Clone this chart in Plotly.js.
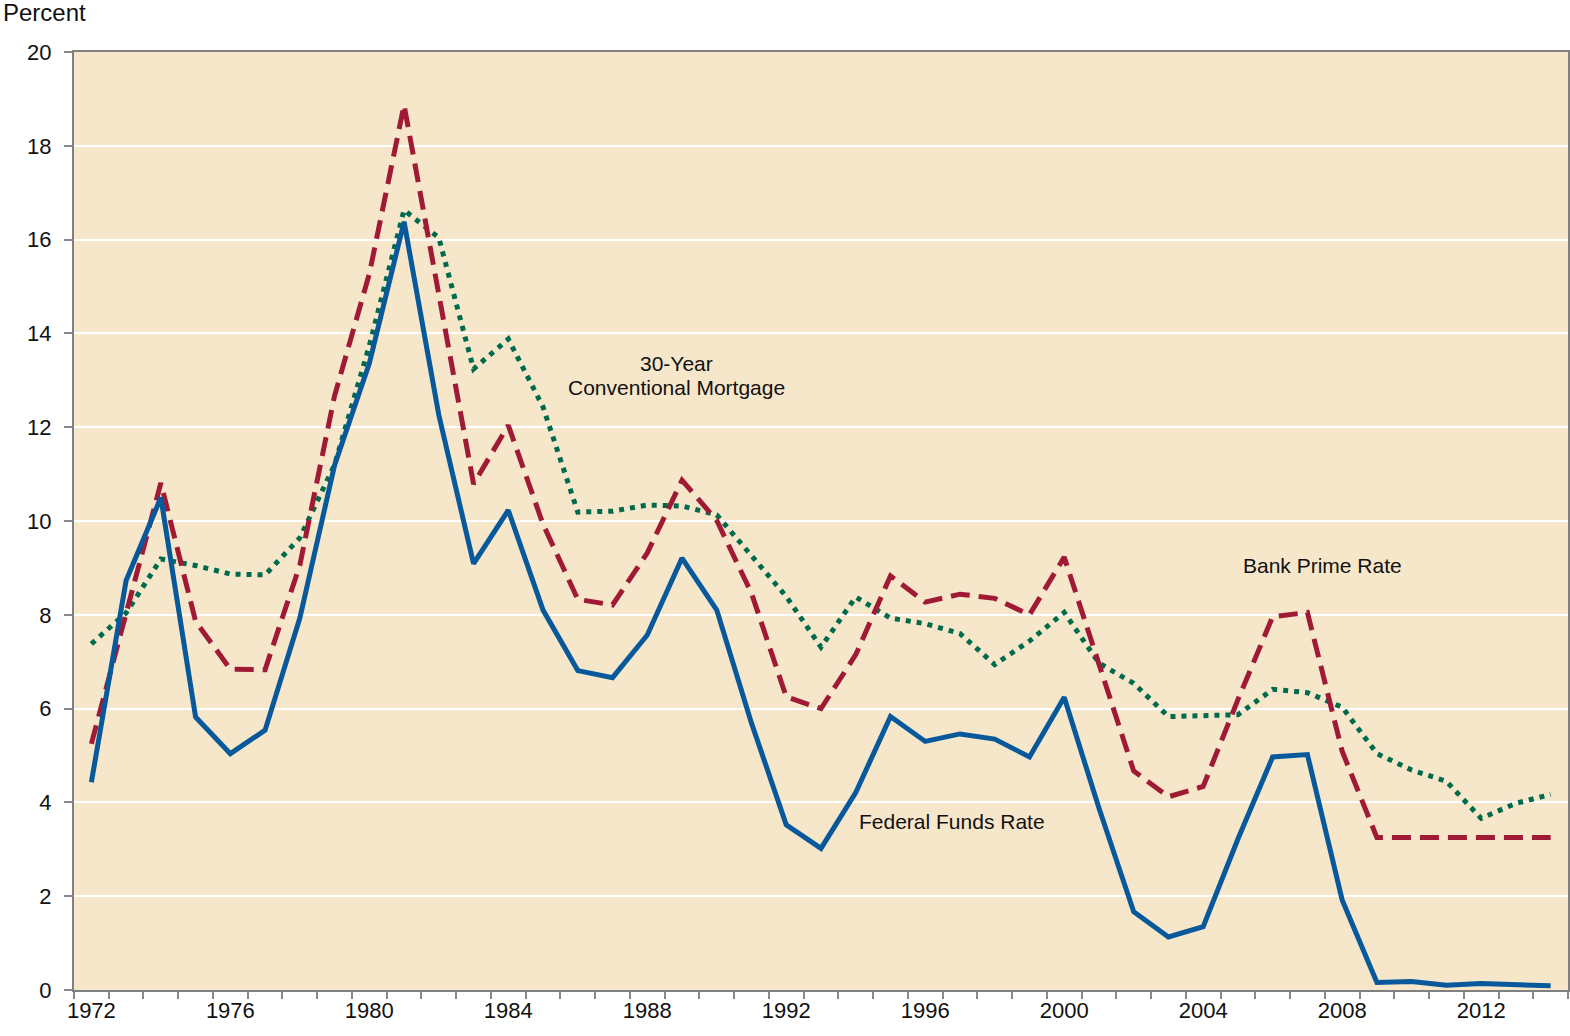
<!DOCTYPE html>
<html><head><meta charset="utf-8">
<script src="https://cdn.plot.ly/plotly-3.0.1.min.js"></script>
<style>html,body{margin:0;padding:0;background:#fff;}#chart{width:1570px;height:1036px;}</style>
</head><body><div id="chart"></div>
<script>
const years = [1972,1973,1974,1975,1976,1977,1978,1979,1980,1981,1982,1983,1984,1985,1986,1987,1988,1989,1990,1991,1992,1993,1994,1995,1996,1997,1998,1999,2000,2001,2002,2003,2004,2005,2006,2007,2008,2009,2010,2011,2012,2013,2014];
const fedFunds = [4.43,8.73,10.50,5.82,5.04,5.54,7.93,11.19,13.36,16.38,12.26,9.09,10.23,8.10,6.81,6.66,7.57,9.21,8.10,5.69,3.52,3.02,4.21,5.83,5.30,5.46,5.35,4.97,6.24,3.88,1.67,1.13,1.35,3.22,4.97,5.02,1.92,0.16,0.18,0.10,0.14,0.11,0.09];
const primeRate = [5.25,8.03,10.81,7.86,6.84,6.83,9.06,12.67,15.27,18.87,14.86,10.79,12.04,9.93,8.33,8.21,9.32,10.87,10.01,8.46,6.25,6.00,7.15,8.83,8.27,8.44,8.35,8.00,9.23,6.91,4.67,4.12,4.34,6.19,7.96,8.05,5.09,3.25,3.25,3.25,3.25,3.25,3.25];
const mortgage = [7.38,8.04,9.19,9.05,8.87,8.85,9.64,11.20,13.74,16.63,16.04,13.24,13.88,12.43,10.19,10.21,10.34,10.32,10.13,9.25,8.39,7.31,8.38,7.93,7.81,7.60,6.94,7.44,8.05,6.97,6.54,5.83,5.84,5.87,6.41,6.34,6.03,5.04,4.69,4.45,3.66,3.98,4.17];
const tickYears = [1972,1976,1980,1984,1988,1992,1996,2000,2004,2008,2012];

const font = "Liberation Sans, Arial, sans-serif";
const traces = [
  {x: years, y: mortgage, type:'scatter', mode:'lines', name:'30-Year Conventional Mortgage',
   line:{color:'#006B4C', width:5, dash:'5px,6px'}},
  {x: years, y: primeRate, type:'scatter', mode:'lines', name:'Bank Prime Rate',
   line:{color:'#A01A35', width:5, dash:'19px,9px'}},
  {x: years, y: fedFunds, type:'scatter', mode:'lines', name:'Federal Funds Rate',
   line:{color:'#07599C', width:5}}
];
const layout = {
  width:1570, height:1036,
  margin:{l:74, r:2, t:52, b:46},
  paper_bgcolor:'#ffffff', plot_bgcolor:'#F6E6CA',
  showlegend:false,
  font:{family:font, color:'#111', size:22},
  xaxis:{
    type:'linear', range:[1971.5, 2014.5], tickmode:'array', tickvals:tickYears, ticktext:tickYears.map(String),
    ticks:'', showgrid:false, zeroline:false,
    showline:true, linecolor:'#808080', linewidth:2, mirror:true,
    tickfont:{family:font, size:22, color:'#111'},
    minor:{ticks:'outside', tick0:1971.5, dtick:1, ticklen:7, tickcolor:'#888', tickwidth:2, showgrid:false}
  },
  yaxis:{
    range:[0,20], dtick:2, tick0:0, ticks:'outside', ticklen:8, tickcolor:'#888', tickwidth:2,
    ticklabelstandoff:8,
    showgrid:true, gridcolor:'#ffffff', gridwidth:2, zeroline:false,
    showline:true, linecolor:'#808080', linewidth:2, mirror:true,
    tickfont:{family:font, size:22, color:'#111'}
  },
  annotations:[
    {text:'Percent', xref:'paper', yref:'paper', x:-0.049, y:1.059, xanchor:'left', yanchor:'top', showarrow:false,
     font:{family:font, size:24, color:'#111'}},
    {text:'30-Year', xref:'x', yref:'y', x:1988.83, y:13.36, xanchor:'center', yanchor:'middle', showarrow:false,
     font:{family:font, size:21, color:'#111'}},
    {text:'Conventional Mortgage', xref:'x', yref:'y', x:1988.83, y:12.84, xanchor:'center', yanchor:'middle', showarrow:false,
     font:{family:font, size:21, color:'#111'}},
    {text:'Bank Prime Rate', xref:'x', yref:'y', x:2007.43, y:9.06, xanchor:'center', yanchor:'middle', showarrow:false,
     font:{family:font, size:21, color:'#111'}},
    {text:'Federal Funds Rate', xref:'x', yref:'y', x:1996.77, y:3.6, xanchor:'center', yanchor:'middle', showarrow:false,
     font:{family:font, size:21, color:'#111'}}
  ]
};
Plotly.newPlot('chart', traces, layout, {displayModeBar:false, staticPlot:true});
</script></body></html>
